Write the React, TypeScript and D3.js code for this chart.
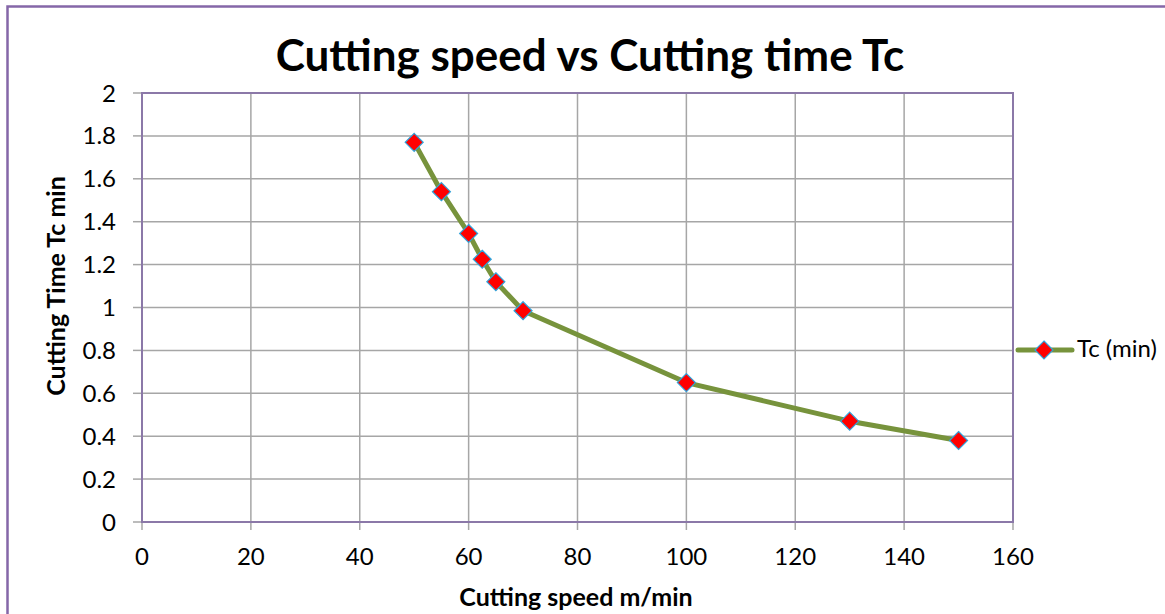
import * as d3 from 'd3';

const speeds = [50, 55, 60, 62.5, 65, 70, 100, 130, 150];
const tcMin = [1.77, 1.54, 1.345, 1.225, 1.12, 0.985, 0.65, 0.47, 0.38];
const xTicks = [0, 20, 40, 60, 80, 100, 120, 140, 160];
const yTicks = [0, 0.2, 0.4, 0.6, 0.8, 1, 1.2, 1.4, 1.6, 1.8, 2];
const seriesName = 'Tc (min)';

const W = 1165;
const H = 614;
const FONT = 'Lato, "Open Sans", sans-serif';

export default function App() {
  const left = 142, right = 1013, top = 93, bottom = 522;
  const x = d3.scaleLinear().domain([0, 160]).range([left, right]);
  const y = d3.scaleLinear().domain([0, 2]).range([bottom, top]);

  const pts = speeds.map((s, i) => [s, tcMin[i]] as [number, number]);
  const line = d3.line<[number, number]>().x(d => x(d[0])).y(d => y(d[1]));

  // red diamond marker, same as the excel one
  const diamond = (cx: number, cy: number, r: number) =>
    `M${cx},${cy - r}L${cx + r},${cy}L${cx},${cy + r}L${cx - r},${cy}Z`;

  return (
    <svg width={W} height={H} style={{ position: 'absolute', left: 0, top: 0, background: '#fff' }}>
      <rect x={7.5} y={6.5} width={W} height={H} fill="#fff" stroke="#8567A8" strokeWidth={2.5} />
      <text x={590} y={71} textAnchor="middle" fontFamily={FONT} fontWeight="bold" fontSize={44} fill="#000">
        Cutting speed vs Cutting time Tc
      </text>

      {/* grid */}
      {xTicks.map(t => (
        <line key={'gx' + t} x1={x(t)} x2={x(t)} y1={top} y2={bottom} stroke="#A6A6A6" strokeWidth={1.5} />
      ))}
      {yTicks.map(t => (
        <line key={'gy' + t} x1={left} x2={right} y1={y(t)} y2={y(t)} stroke="#A6A6A6" strokeWidth={1.5} />
      ))}
      {xTicks.map(t => (
        <line key={'tx' + t} x1={x(t)} x2={x(t)} y1={bottom} y2={bottom + 8} stroke="#A6A6A6" strokeWidth={1.5} />
      ))}
      {yTicks.map(t => (
        <line key={'ty' + t} x1={left - 9} x2={left} y1={y(t)} y2={y(t)} stroke="#A6A6A6" strokeWidth={1.5} />
      ))}
      <rect x={left} y={top} width={right - left} height={bottom - top} fill="none" stroke="#8B78A8" strokeWidth={2} />

      {/* tick labels */}
      {xTicks.map(t => (
        <text key={'lx' + t} x={x(t)} y={565} textAnchor="middle" fontFamily={FONT} fontSize={24} fill="#000">
          {t}
        </text>
      ))}
      {yTicks.map(t => (
        <text key={'ly' + t} x={116} y={y(t) + 8.5} textAnchor="end" fontFamily={FONT} fontSize={24} fill="#000">
          {d3.format('~g')(t)}
        </text>
      ))}

      <text x={576} y={606} textAnchor="middle" fontFamily={FONT} fontWeight="bold" fontSize={25} fill="#000">
        Cutting speed m/min
      </text>
      <text transform={`translate(65,286) rotate(-90)`} textAnchor="middle" fontFamily={FONT} fontWeight="bold" fontSize={25} fill="#000">
        Cutting Time Tc min
      </text>

      {/* series */}
      <path d={line(pts) || ''} fill="none" stroke="#77933C" strokeWidth={5} strokeLinejoin="round" />
      {pts.map((p, i) => (
        <path key={'m' + i} d={diamond(x(p[0]), y(p[1]), 9)} fill="#FF0000" stroke="#2FA4DC" strokeWidth={1.2} />
      ))}

      {/* legend */}
      <line x1={1018} x2={1072} y1={350} y2={350} stroke="#77933C" strokeWidth={5} strokeLinecap="round" />
      <path d={diamond(1044, 350, 9)} fill="#FF0000" stroke="#2FA4DC" strokeWidth={1.2} />
      <text x={1077} y={357} fontFamily={FONT} fontSize={24} fill="#000">
        {seriesName}
      </text>
    </svg>
  );
}
